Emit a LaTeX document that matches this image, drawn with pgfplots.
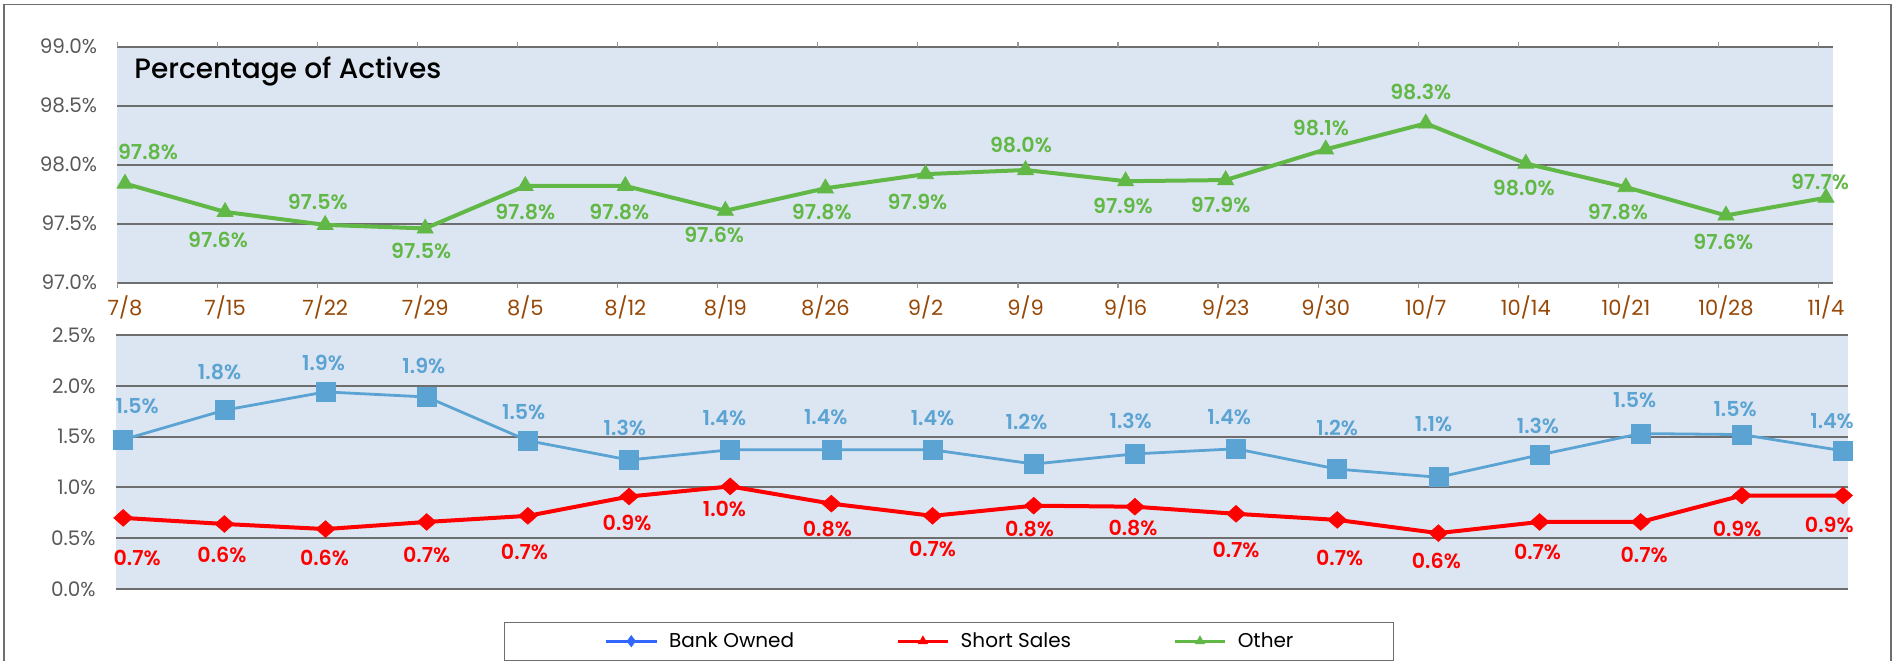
\documentclass[border=0pt]{standalone}
\usepackage{pgfplots}
\pgfplotsset{compat=1.18}
\usepackage{pgfplotstable}
\usepackage{fontspec}
\setmainfont{Poppins}[BoldFont={* SemiBold}]
\newfontfamily\medfont{Poppins Medium}

\definecolor{bgblue}{HTML}{DCE6F2}
\definecolor{gridgray}{HTML}{6E6E6E}
\definecolor{tickgray}{HTML}{595959}
\definecolor{xbrown}{HTML}{974806}
\definecolor{cgreen}{HTML}{62B846}
\definecolor{cblue}{HTML}{5BA3D3}
\definecolor{cred}{HTML}{FF0000}
\definecolor{legblue}{HTML}{3366FF}

% x, value, label text, label offset dx/dy (pt)
\pgfplotstableread{
x y lab dx dy
0 97.84 97.8 11.5 16
1 97.60 97.6 -3.5 -14
2 97.49 97.5 -3.7 11.6
3 97.46 97.5 -2 -11.5
4 97.82 97.8 0 -12.8
5 97.82 97.8 -3 -12.8
6 97.61 97.6 -5.6 -12
7 97.80 97.8 -1.8 -12
8 97.92 97.9 -4 -14
9 97.955 98.0 -2.3 12.5
10 97.86 97.9 -1.3 -12.3
11 97.87 97.9 -2.5 -12.3
12 98.13 98.1 -2.4 10.8
13 98.35 98.3 -2.5 15.5
14 98.01 98.0 -1 -12
15 97.81 97.8 -4 -12.5
16 97.57 97.6 -1.3 -13
17 97.72 97.7 -3 7.8
}\othertab

\pgfplotstableread{
x y lab dx dy
0 1.47 1.5 7 17
1 1.76 1.8 -2.4 19.2
2 1.94 1.9 -1 14.7
3 1.89 1.9 -1.4 15.3
4 1.46 1.5 -2.1 14.2
5 1.27 1.3 -2.1 16
6 1.37 1.4 -2.9 15.8
7 1.37 1.4 -2.8 16.6
8 1.37 1.4 0 15.8
9 1.23 1.2 -3.6 21
10 1.33 1.3 -2.1 16.3
11 1.38 1.4 -3.4 16
12 1.18 1.2 0 20.8
13 1.10 1.1 -2.4 26.5
14 1.32 1.3 -0.8 14.6
15 1.53 1.5 -3 16.6
16 1.52 1.5 -3.4 12.8
17 1.36 1.4 -5.5 14.8
}\banktab

\pgfplotstableread{
x y lab dx dy
0 0.70 0.7 7 -20
1 0.64 0.6 -1.2 -15.3
2 0.59 0.6 -0.5 -14.5
3 0.66 0.7 0 -16.7
4 0.72 0.7 -1.7 -18
5 0.91 0.9 -1 -13
6 1.01 1.0 -2.9 -11.3
7 0.84 0.8 -2 -12.8
8 0.72 0.7 0 -16.7
9 0.82 0.8 -2.1 -11.7
10 0.81 0.8 -0.9 -10.8
11 0.74 0.7 0 -18.3
12 0.68 0.7 1.2 -19.2
13 0.55 0.6 -1 -14
14 0.66 0.7 -1 -15
15 0.66 0.7 1.7 -16.7
16 0.92 0.9 -2.4 -16.7
17 0.92 0.9 -6.9 -14.5
}\shorttab

\pgfplotsset{
  common/.style={
    scale only axis, clip=false,
    axis background/.style={fill=bgblue},
    axis line style={draw=none},
    ymajorgrids,
    grid style={draw=gridgray, line width=1pt},
    major tick length=0pt,
    tick label style={inner sep=0pt},
    yticklabel style={text=tickgray, font=\fontsize{10}{12}\selectfont, xshift=-10pt},
    /pgf/number format/assume math mode=true,
  },
  lbl/.style={
    forget plot, draw=none, mark=none,
    nodes near coords={\pgfplotspointmeta\%},
    point meta=explicit symbolic,
    nodes near coords style={anchor=center, inner sep=0pt,
      font=\bfseries\fontsize{10.3}{12}\selectfont, text=#1},
  },
}

\begin{document}
\begin{tikzpicture}
\useasboundingbox (0,0) rectangle (947.5pt,330pt);
\fill[white] (0,0) rectangle (947.5pt,330pt);
\draw[gridgray, line width=0.7pt] (2pt,-1pt) -- (2pt,327.65pt) -- (945.5pt,327.65pt) -- (945.5pt,-1pt);

% top axis
\begin{axis}[common,
  at={(58.7pt,188.65pt)}, anchor=south west,
  width=857.65pt, height=118pt,
  xmin=-0.076, xmax=17.067, ymin=97, ymax=99,
  ytick={97,97.5,98,98.5,99},
  yticklabels={97.0\%,97.5\%,98.0\%,98.5\%,99.0\%},
  xtick={0,1,...,17},
  xticklabels={7/8,7/15,7/22,7/29,8/5,8/12,8/19,8/26,9/2,9/9,9/16,9/23,9/30,10/7,10/14,10/21,10/28,11/4},
  xticklabel style={text=xbrown, font=\fontsize{10.5}{12}\selectfont, anchor=center, yshift=-12.3pt},
  minor xtick={-0.076,0.924,...,16.924},
  minor tick length=2.4pt, tick align=outside,
  minor x tick style={draw=gridgray!70, line width=0.6pt},
]
\addplot[cgreen, line width=2pt, mark=triangle*, mark size=4.6pt,
  mark options={line width=0.4pt, fill=cgreen}]
  table[x=x, y=y]{\othertab};
\addplot[lbl=cgreen]
  table[x expr=\thisrow{x}+\thisrow{dx}/50.03, y expr=\thisrow{y}+\thisrow{dy}/59, meta=lab]{\othertab};
\node[anchor=base west, font=\medfont\fontsize{14}{16}\selectfont, inner sep=0pt]
  at (rel axis cs:0.0097,0.865) {Percentage of Actives};
\end{axis}

% bottom axis
\begin{axis}[common,
  at={(58pt,35.5pt)}, anchor=south west,
  width=865.85pt, height=127pt,
  xmin=-0.071, xmax=17.046, ymin=0, ymax=2.5,
  ytick={0,0.5,1,1.5,2,2.5},
  yticklabels={0.0\%,0.5\%,1.0\%,1.5\%,2.0\%,2.5\%},
  xtick=\empty,
  legend columns=3,
  legend cell align=left,
  legend image code/.code={\draw[#1, mark repeat=2, mark phase=2] plot coordinates {(0pt,0pt) (12.65pt,0pt) (25.3pt,0pt)};},
  legend style={at={(0.481,0)}, anchor=north, yshift=-16.35pt,
    draw=gridgray, line width=0.6pt, fill=white,
    font=\fontsize{10}{12}\selectfont,
    inner xsep=50pt, inner ysep=5pt,
    nodes={inner sep=0pt},
    /tikz/every odd column/.append style={column sep=5.5pt},
    /tikz/every even column/.append style={column sep=51pt}},
]
\addlegendimage{legblue, line width=1.5pt, mark=diamond*, mark size=2.8pt, mark options={fill=legblue, line width=0.3pt}}
\addlegendentry{Bank Owned}
\addlegendimage{cred, line width=1.5pt, mark=triangle*, mark size=2.6pt, mark options={fill=cred, line width=0.3pt}}
\addlegendentry{Short Sales}
\addlegendimage{cgreen, line width=1.5pt, mark=triangle*, mark size=2.6pt, mark options={fill=cgreen, line width=0.3pt}}
\addlegendentry{Other}

\addplot[forget plot, cblue, line width=1.4pt, mark=square*, mark size=4.75pt,
  mark options={line width=0.3pt, fill=cblue}]
  table[x=x, y=y]{\banktab};
\addplot[forget plot, cred, line width=2pt, mark=diamond*, mark size=4.2pt,
  mark options={line width=0.3pt, fill=cred, xscale=1.5}]
  table[x=x, y=y]{\shorttab};
\addplot[lbl=cblue]
  table[x expr=\thisrow{x}+\thisrow{dx}/50.58, y expr=\thisrow{y}+\thisrow{dy}/50.8, meta=lab]{\banktab};
\addplot[lbl=cred]
  table[x expr=\thisrow{x}+\thisrow{dx}/50.58, y expr=\thisrow{y}+\thisrow{dy}/50.8, meta=lab]{\shorttab};
\end{axis}
\end{tikzpicture}
\end{document}
